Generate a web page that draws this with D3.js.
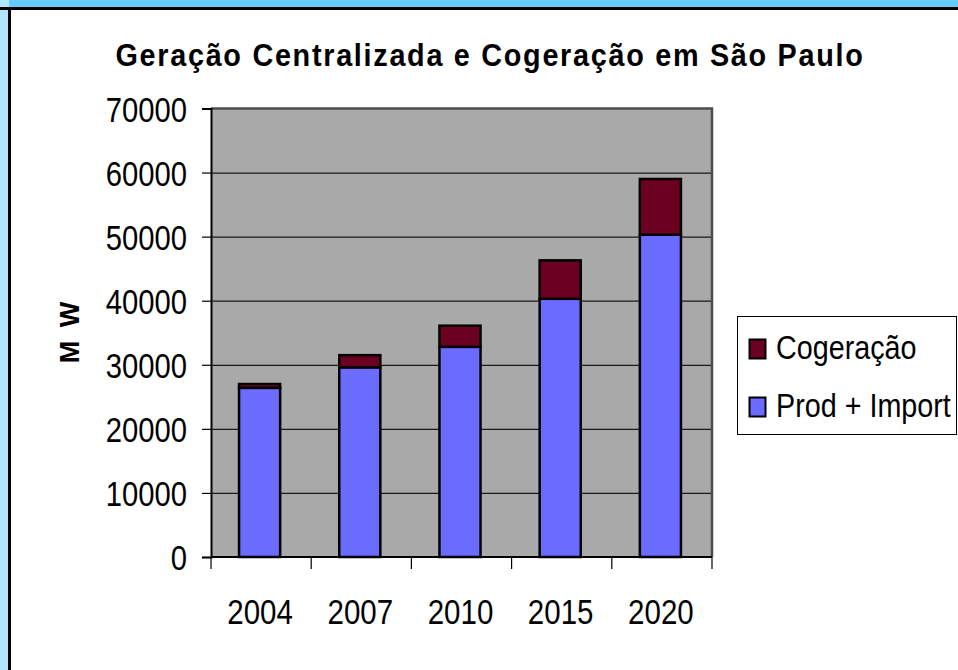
<!DOCTYPE html>
<html>
<head>
<meta charset="utf-8">
<script src="https://cdn.jsdelivr.net/npm/d3@7"></script>
<style>
  body { margin: 0; background: #fff; }
  svg { display: block; }
  text { font-family: "Liberation Sans", Arial, sans-serif; }
</style>
</head>
<body>
<div id="chart"></div>
<script>
// data (MW)
let years = ["2004", "2007", "2010", "2015", "2020"];
let prod_import = [26400, 29600, 32800, 40300, 50300];
let cogeracao = [600, 1900, 3300, 6000, 8700];
let series_names = ["Prod + Import", "Cogeração"];
let series_colors = ["#6b6bff", "#6b0020"];
let yticks = [0, 10000, 20000, 30000, 40000, 50000, 60000, 70000];

let W = 958, H = 670;
let plot = {left: 211, right: 712, top: 108.5, bottom: 557};
// no narrow font installed, so squeeze the normal one
let squeeze = 0.835;

const svg = d3.select("#chart")
  .append("svg")
  .attr("width", W)
  .attr("height", H);

// frame round the slide
svg.append("rect").attr("x", 0).attr("y", 0).attr("width", W).attr("height", 8).attr("fill", "#66ccff");
svg.append("rect").attr("x", 0).attr("y", 0).attr("width", 9).attr("height", H).attr("fill", "#b3e5ff");
svg.append("line").attr("x1", 0).attr("x2", W).attr("y1", 8.5).attr("y2", 8.5)
  .attr("stroke", "#000").attr("stroke-width", 3);
svg.append("line").attr("x1", 9.5).attr("x2", 9.5).attr("y1", 8).attr("y2", H)
  .attr("stroke", "#000").attr("stroke-width", 3);

const y_scale = d3.scaleLinear()
  .domain([0, 70000])
  .range([plot.bottom, plot.top]);

const x_scale = d3.scaleBand()
  .domain(years)
  .range([plot.left, plot.right]);

const bar_scale = d3.scaleBand()
  .domain(years)
  .range([plot.left - 1.5, plot.right - 1.5])
  .paddingInner(0.59)
  .paddingOuter(0.295);

// plot background
svg.append("rect")
  .attr("x", plot.left).attr("y", plot.top)
  .attr("width", plot.right - plot.left).attr("height", plot.bottom - plot.top)
  .attr("fill", "#a9a9a9");

// grid lines
svg.append("g")
  .attr("transform", `translate(${plot.left},0)`)
  .call(d3.axisLeft(y_scale)
    .tickValues(yticks.slice(1, -1))
    .tickSize(-(plot.right - plot.left))
    .tickFormat(""))
  .call(g => g.select(".domain").remove())
  .call(g => g.selectAll("line").attr("stroke", "#1a1a1a").attr("stroke-width", 1.2));

// top and right border of the plot
svg.append("path")
  .attr("d", `M${plot.left},${plot.top}H${plot.right}V${plot.bottom}`)
  .attr("fill", "none")
  .attr("stroke", "#4d4d4d")
  .attr("stroke-width", 2.5);

// stacked bars
let stack_data = years.map((y, i) => ({year: y, prod: prod_import[i], cog: cogeracao[i]}));
const stacked = d3.stack().keys(["prod", "cog"])(stack_data);

svg.append("g")
  .selectAll("g")
  .data(stacked)
  .enter()
  .append("g")
  .attr("fill", (d, i) => series_colors[i])
  .selectAll("rect")
  .data(d => d)
  .enter()
  .append("rect")
  .attr("x", d => bar_scale(d.data.year))
  .attr("width", bar_scale.bandwidth())
  .attr("y", d => y_scale(d[1]))
  .attr("height", d => y_scale(d[0]) - y_scale(d[1]))
  .attr("stroke", "#000")
  .attr("stroke-width", 2.5);

// y axis
const y_axis = svg.append("g")
  .attr("transform", `translate(${plot.left},0)`)
  .call(d3.axisLeft(y_scale)
    .tickValues(yticks)
    .tickSize(9)
    .tickFormat(d => d));
y_axis.select(".domain").attr("stroke", "#000").attr("stroke-width", 2);
y_axis.selectAll("line").attr("stroke", "#000").attr("stroke-width", 1.2);
y_axis.selectAll("text")
  .attr("x", 0)
  .attr("dy", "0.36em")
  .attr("transform", `translate(-24,0) scale(${squeeze},1)`)
  .attr("font-size", 35)
  .attr("fill", "#000");

// x axis, ticks on the category boundaries
let bounds = years.map(d => x_scale(d)).concat([plot.right]);
const x_axis = svg.append("g")
  .attr("transform", `translate(0,${plot.bottom})`);
x_axis.append("line")
  .attr("x1", plot.left).attr("x2", plot.right)
  .attr("stroke", "#000").attr("stroke-width", 2);
x_axis.selectAll(".bound")
  .data(bounds)
  .enter()
  .append("line")
  .attr("class", "bound")
  .attr("x1", d => d).attr("x2", d => d)
  .attr("y1", 0).attr("y2", 12)
  .attr("stroke", "#000").attr("stroke-width", 1.2);
x_axis.selectAll("text")
  .data(years)
  .enter()
  .append("text")
  .attr("transform", d => `translate(${x_scale(d) + x_scale.bandwidth() / 2 - 1},67) scale(0.82,1)`)
  .attr("text-anchor", "middle")
  .attr("font-size", 36)
  .text(d => d);

// title
svg.append("text")
  .attr("transform", "translate(490,66) scale(0.9,1)")
  .attr("text-anchor", "middle")
  .attr("font-size", 32)
  .attr("font-weight", "bold")
  .attr("letter-spacing", 1.9)
  .text("Geração Centralizada e Cogeração em São Paulo");

// y label
svg.append("text")
  .attr("transform", "translate(79,331) rotate(-90)")
  .attr("text-anchor", "middle")
  .attr("font-size", 27)
  .attr("font-weight", "bold")
  .attr("letter-spacing", 3)
  .text("M W");

// legend
const legend = svg.append("g");
legend.append("rect")
  .attr("x", 737.5).attr("y", 316.5)
  .attr("width", 219).attr("height", 118)
  .attr("fill", "#fff").attr("stroke", "#000").attr("stroke-width", 1);

let legend_order = [1, 0];
legend.selectAll(".item")
  .data(legend_order)
  .enter()
  .append("g")
  .attr("class", "item")
  .attr("transform", (d, i) => `translate(749,${339 + i * 58})`)
  .each(function(d) {
    const g = d3.select(this);
    g.append("rect")
      .attr("x", 0.5).attr("y", 0.5)
      .attr("width", 16).attr("height", 19)
      .attr("fill", series_colors[d])
      .attr("stroke", "#000").attr("stroke-width", 2);
    g.append("text")
      .attr("transform", `translate(27,20) scale(0.845,1)`)
      .attr("font-size", 34)
      .text(series_names[d]);
  });
</script>
</body>
</html>
